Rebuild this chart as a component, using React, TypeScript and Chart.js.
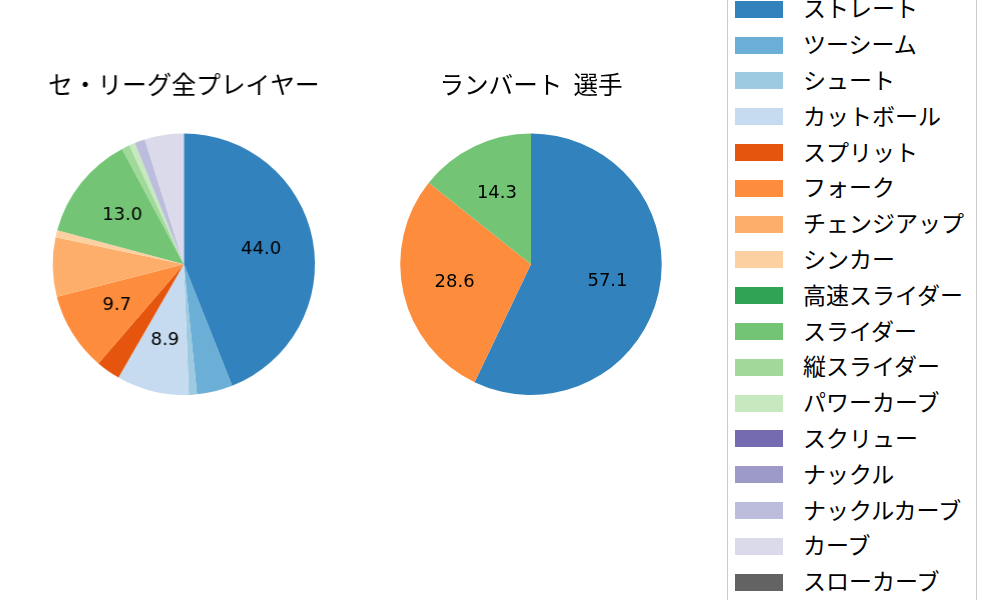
import { useRef, useEffect } from 'react'
import Chart from 'chart.js/auto'

const pitchTypes = [
  'ストレート', 'ツーシーム', 'シュート', 'カットボール', 'スプリット', 'フォーク',
  'チェンジアップ', 'シンカー', '高速スライダー', 'スライダー', '縦スライダー', 'パワーカーブ',
  'スクリュー', 'ナックル', 'ナックルカーブ', 'カーブ', 'スローカーブ',
]
const pitchColors = [
  '#3182bd', '#6baed6', '#9ecae1', '#c6dbef', '#e6550d', '#fd8d3c',
  '#fdae6b', '#fdd0a2', '#31a354', '#74c476', '#a1d99b', '#c7e9c0',
  '#756bb1', '#9e9ac8', '#bcbddc', '#dadaeb', '#636363',
]
const leagueValues = [44.0, 4.4, 1.0, 8.9, 3.0, 9.7, 7.3, 0.9, 0, 13.0, 1.0, 0.7, 0, 0, 1.3, 4.8, 0]
const playerValues = [57.1, 0, 0, 0, 0, 28.6, 0, 0, 0, 14.3, 0, 0, 0, 0, 0, 0, 0]

const leagueTitle = 'セ・リーグ全プレイヤー'
const playerTitle = 'ランバート  選手'

const CJK = '"Noto Sans CJK JP", "Noto Sans", sans-serif'

const pctLabels = {
  id: 'pctLabels',
  afterDatasetsDraw(chart: Chart) {
    const { ctx } = chart
    const meta = chart.getDatasetMeta(0)
    const values = chart.data.datasets[0].data as number[]
    ctx.save()
    ctx.font = '18px "DejaVu Sans"'
    ctx.fillStyle = '#000'
    ctx.textAlign = 'center'
    ctx.textBaseline = 'middle'
    meta.data.forEach((el: any, i: number) => {
      const v = values[i]
      if (v < 8) return
      const mid = (el.startAngle + el.endAngle) / 2
      const r = el.outerRadius * 0.6
      ctx.fillText(v.toFixed(1), el.x + Math.cos(mid) * r, el.y + Math.sin(mid) * r)
    })
    ctx.restore()
  },
}

function PieChart({ values, title }: { values: number[]; title: string }) {
  const canvasRef = useRef<HTMLCanvasElement>(null)

  useEffect(() => {
    if (!canvasRef.current) return
    const chart = new Chart(canvasRef.current, {
      type: 'pie',
      data: {
        labels: pitchTypes,
        datasets: [{
          data: values,
          backgroundColor: pitchColors,
          borderWidth: 0,
        }],
      },
      options: {
        responsive: true,
        maintainAspectRatio: false,
        animation: false,
        layout: { padding: { top: 0, bottom: 205, left: 0, right: 0 } },
        plugins: {
          legend: { display: false },
          tooltip: { enabled: false },
          title: {
            display: true,
            text: title,
            color: '#000',
            font: { size: 24.6, weight: 'normal', family: CJK, lineHeight: 1.2 },
            padding: { top: 69.5, bottom: 34.5 },
          },
        },
      },
      plugins: [pctLabels],
    })
    return () => chart.destroy()
  }, [values, title])

  return <canvas ref={canvasRef} />
}

export default function App() {
  return (
    <div style={{ position: 'absolute', left: 0, top: 0, width: 1000, height: 600, background: '#fff', overflow: 'hidden' }}>
      <div style={{ position: 'absolute', left: 0, top: 0, width: 366.6, height: 600 }}>
        <PieChart values={leagueValues} title={leagueTitle} />
      </div>
      <div style={{ position: 'absolute', left: 348, top: 0, width: 366, height: 600 }}>
        <PieChart values={playerValues} title={playerTitle} />
      </div>
      <div
        style={{
          position: 'absolute', left: 726.5, top: -12, width: 250, height: 625,
          border: '1px solid #cccccc', borderRadius: 4, boxSizing: 'border-box', background: '#fff',
        }}
      />
      {pitchTypes.map((name, i) => {
        const cy = 9.3 + 35.8 * i
        return (
          <div key={name}>
            <div style={{ position: 'absolute', left: 735, top: cy - 8.5, width: 48, height: 17, background: pitchColors[i] }} />
            <div
              style={{
                position: 'absolute', left: 803, top: cy - 17, height: 30, lineHeight: '30px',
                fontFamily: CJK, fontSize: 23, color: '#000', whiteSpace: 'nowrap',
              }}
            >
              {name}
            </div>
          </div>
        )
      })}
    </div>
  )
}
